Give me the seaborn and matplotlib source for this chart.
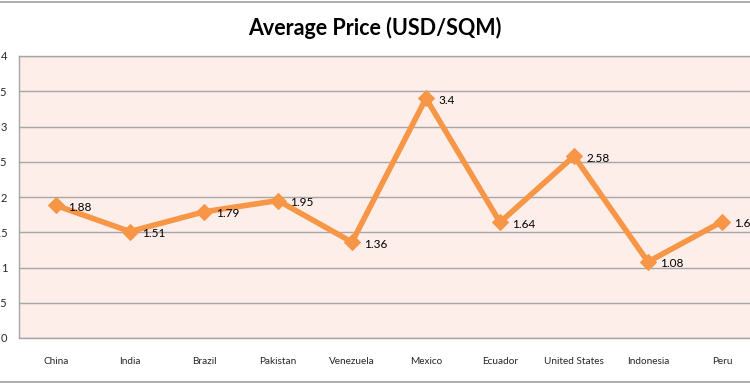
import matplotlib
matplotlib.use("Agg")
import matplotlib.pyplot as plt
import seaborn as sns
import pandas as pd
from matplotlib.lines import Line2D

countries = ["China", "India", "Brazil", "Pakistan", "Venezuela", "Mexico",
             "Ecuador", "United States", "Indonesia", "Peru"]
prices = [1.88, 1.51, 1.79, 1.95, 1.36, 3.4, 1.64, 2.58, 1.08, 1.65]
y_ticks = [0, 0.5, 1, 1.5, 2, 2.5, 3, 3.5, 4]
y_tick_labels = ["0", "0.5", "1", "1.5", "2", "2.5", "3", "3.5", "4"]

sns.set_theme(style="white")
plt.rcParams['font.family'] = ['Lato', 'DejaVu Sans']

df = pd.DataFrame({"country": countries, "price": prices})

W, H = 750, 383
fig = plt.figure(figsize=(W / 100, H / 100), dpi=100)
ax = fig.add_axes([19 / W, (H - 338) / H, (759 - 19) / W, (338 - 56) / H])
ax.set_facecolor("#fdeee9")

orange = "#f79646"
sns.lineplot(data=df, x="country", y="price", ax=ax, sort=False,
             color=orange, linewidth=4, marker="D", markersize=8,
             markeredgecolor=orange, markerfacecolor=orange)

for i, v in enumerate(prices):
    ax.annotate(f"{v:g}", (i, v), xytext=(9, -1.5), textcoords="offset points",
                ha="left", va="center", fontsize=8.5, color="black")

ax.set_xlim(-0.5, len(countries) - 0.5)
ax.set_ylim(0, 4)
ax.set_yticks(y_ticks)
ax.set_yticklabels(y_tick_labels)
ax.yaxis.grid(True, color="#a6a6a6", linewidth=1)
ax.set_axisbelow(True)
ax.tick_params(axis="y", length=0, pad=8.5, labelsize=8)
ax.tick_params(axis="x", length=0, pad=14, labelsize=7.2)
ax.set_xlabel("")
ax.set_ylabel("")
for s in ax.spines.values():
    s.set_color("#a6a6a6")
    s.set_linewidth(1)

fig.text(375 / W, 1 - 28 / H, "Average Price (USD/SQM)", ha="center", va="center",
         fontsize=15.5, fontweight="bold", color="black")

fig.add_artist(Line2D([0, 1], [1 - 1.5 / H, 1 - 1.5 / H], transform=fig.transFigure,
                      color="#a0a0a0", linewidth=1.2))
fig.add_artist(Line2D([0, 1], [1.5 / H, 1.5 / H], transform=fig.transFigure,
                      color="#a0a0a0", linewidth=1.2))

fig.savefig("out.png", dpi=100)
